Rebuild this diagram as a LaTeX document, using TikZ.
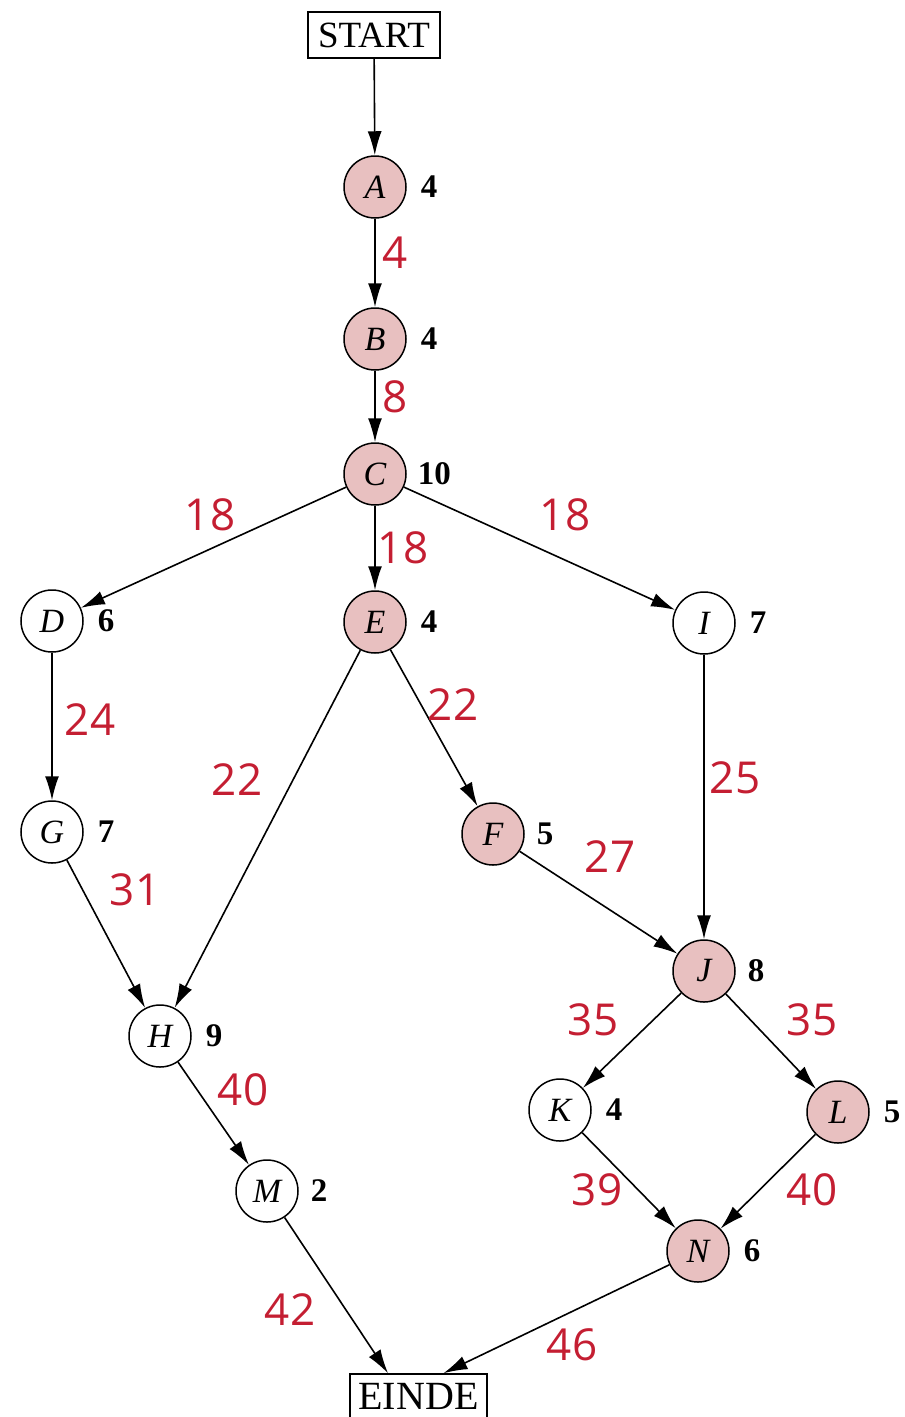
\documentclass[tikz,border=0pt]{standalone}
\usepackage{fontspec}
\setmainfont{Liberation Serif}
\newfontfamily\redfont{Open Sans}
\usetikzlibrary{arrows.meta,calc}
\definecolor{nodepink}{RGB}{232,192,192}
\definecolor{labred}{RGB}{196,30,50}
\tikzset{
  circ/.style={circle, draw, line width=1.5pt, minimum size=62pt, inner sep=0pt,
    font=\fontsize{34}{34}\selectfont\itshape},
  crit/.style={circ, fill=nodepink},
  endbox/.style={draw, line width=1.5pt, inner sep=0pt},
  num/.style={anchor=west, inner sep=0pt, font=\fontsize{33}{33}\selectfont\bfseries},
  wlab/.style={inner sep=0pt, text=labred, font=\redfont\fontsize{44}{44}\selectfont},
  arr/.style={-{Latex[length=24pt,width=14pt]}, line width=1.6pt},
}
\begin{document}
\begin{tikzpicture}[x=1pt,y=-1pt]
\useasboundingbox (0,0) rectangle (905,1417);
% boxes
\node[endbox, minimum width=132pt, minimum height=46pt, font=\fontsize{37}{37}\selectfont] (START) at (374,35) {START};
\node[endbox, minimum width=137pt, minimum height=44pt, font=\fontsize{40}{40}\selectfont] (EINDE) at (418.5,1396) {EINDE};
% activity nodes
\node[crit] (A) at (375,187) {A};
\node[crit] (B) at (375,339) {B};
\node[crit] (C) at (375,474) {C};
\node[circ] (D) at (52,621) {D};
\node[crit] (E) at (375,622) {E};
\node[circ] (I) at (704,623) {I};
\node[circ] (G) at (52,832) {G};
\node[crit] (F) at (493,834) {F};
\node[crit] (J) at (704,971) {J};
\node[circ] (H) at (160,1036) {H};
\node[circ] (K) at (560,1110) {K};
\node[crit] (L) at (838,1112) {L};
\node[circ] (M) at (267,1191) {M};
\node[crit] (N) at (698,1251) {N};
% durations
\node[num] (nA) at ([xshift=14pt]A.east) {4};
\node[num] (nB) at ([xshift=14pt]B.east) {4};
\node[num] (nC) at ([xshift=11pt]C.east) {10};
\node[num] (nD) at ([xshift=14pt]D.east) {6};
\node[num] (nE) at ([xshift=14pt]E.east) {4};
\node[num] (nI) at ([xshift=14pt]I.east) {7};
\node[num] (nG) at ([xshift=14pt]G.east) {7};
\node[num] (nF) at ([xshift=12pt]F.east) {5};
\node[num] (nJ) at ([xshift=12pt]J.east) {8};
\node[num] (nH) at ([xshift=14pt]H.east) {9};
\node[num] (nK) at ([xshift=14pt]K.east) {4};
\node[num] (nL) at ([xshift=14pt]L.east) {5};
\node[num] (nM) at ([xshift=12pt]M.east) {2};
\node[num] (nN) at ([xshift=14pt]N.east) {6};
% connectors
\draw[arr] (START) -- (A);
\draw[arr] (A) -- (B);
\draw[arr] (B) -- (C);
\draw[arr] (C) -- (D);
\draw[arr] (C) -- (E);
\draw[arr] (C) -- (I);
\draw[arr] (D) -- (G);
\draw[arr] (E) -- (H);
\draw[arr] (E) -- (F);
\draw[arr] (I) -- (J);
\draw[arr] (G) -- (H);
\draw[arr] (F) -- (J);
\draw[arr] (J) -- (K);
\draw[arr] (J) -- (L);
\draw[arr] (H) -- (M);
\draw[arr] (K) -- (N);
\draw[arr] (L) -- (N);
\draw[arr] (M) -- ($(EINDE.north west)!0.28!(EINDE.north east)$);
\draw[arr] (N) -- ($(EINDE.north west)!0.68!(EINDE.north east)$);
% earliest-finish labels
\node[wlab] (wAB) at (395,253) {4};
\node[wlab] (wBC) at (395,397) {8};
\node[wlab] (wCD) at (210,515) {18};
\node[wlab] (wCE) at (403,548) {18};
\node[wlab] (wCI) at (565,515) {18};
\node[wlab] (wDG) at (90,720) {24};
\node[wlab] (wEH) at (237,780) {22};
\node[wlab] (wEF) at (453,705) {22};
\node[wlab] (wIJ) at (735,778) {25};
\node[wlab] (wGH) at (135,890) {31};
\node[wlab] (wFJ) at (610,857) {27};
\node[wlab] (wJK) at (593,1020) {35};
\node[wlab] (wJL) at (812,1020) {35};
\node[wlab] (wHM) at (243,1090) {40};
\node[wlab] (wKN) at (597,1190) {39};
\node[wlab] (wLN) at (812,1190) {40};
\node[wlab] (wME) at (290,1310) {42};
\node[wlab] (wNE) at (572,1345) {46};
\end{tikzpicture}
\end{document}
